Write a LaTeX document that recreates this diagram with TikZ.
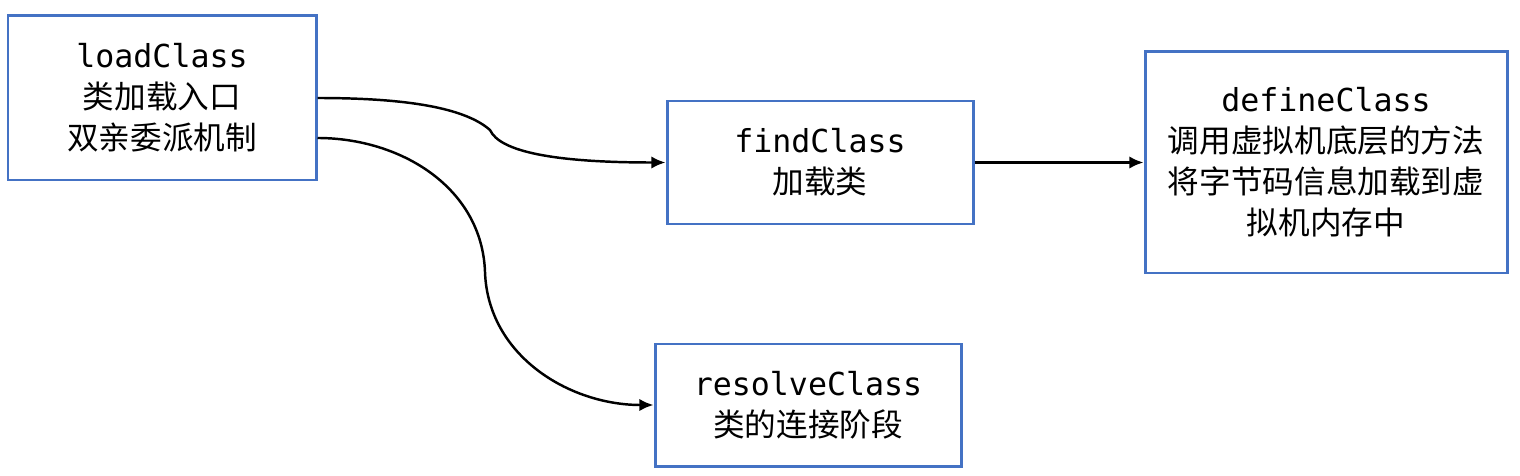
\documentclass[tikz,border=0pt]{standalone}
\usepackage{fontspec}
\setmainfont{Noto Sans CJK SC}
\setmonofont{DejaVu Sans Mono}
\usetikzlibrary{arrows.meta}

\tikzset{
  classbox/.style={draw=boxblue, line width=3pt*0.02/0.0352, inner sep=0pt, align=center,
    font=\fontsize{18}{23.3}\selectfont},
  flow/.style={line width=1.4pt, -{Latex[length=8pt,width=7pt]}}
}
\definecolor{boxblue}{HTML}{4472C4}

\begin{document}
\begin{tikzpicture}[x=0.02cm,y=-0.02cm]

      \useasboundingbox (0,0) rectangle (1520,476);
      \node[classbox, minimum width=308*0.02cm, minimum height=164*0.02cm] (load) at (162,98)
        {\texttt{loadClass}\\类加载入口\\双亲委派机制};
      \node[classbox, minimum width=306*0.02cm, minimum height=123*0.02cm] (find) at (820,162.5)
        {\texttt{findClass}\\加载类};
      \node[classbox, minimum width=362*0.02cm, minimum height=221*0.02cm] (define) at (1326,162.5)
        {\texttt{defineClass}\\调用虚拟机底层的方法\\将字节码信息加载到虚\\拟机内存中};
      \node[classbox, minimum width=306*0.02cm, minimum height=122*0.02cm] (resolve) at (808,405)
        {\texttt{resolveClass}\\类的连接阶段};
      \coordinate (bend1) at (490,130);
      \coordinate (bend2) at (485,272);
      \draw[flow] (load.east) .. controls +(90,0) and +(-25,-22) .. (bend1)
        .. controls +(10,22) and +(-110,0) .. (find.west);
      \draw[flow] ([yshift=-0.8cm]load.east) to[out=0,in=92] (bend2) to[out=-88,in=180] (resolve.west);
      \draw[flow] (find.east) -- (define.west);
  \end{tikzpicture}
\end{document}
